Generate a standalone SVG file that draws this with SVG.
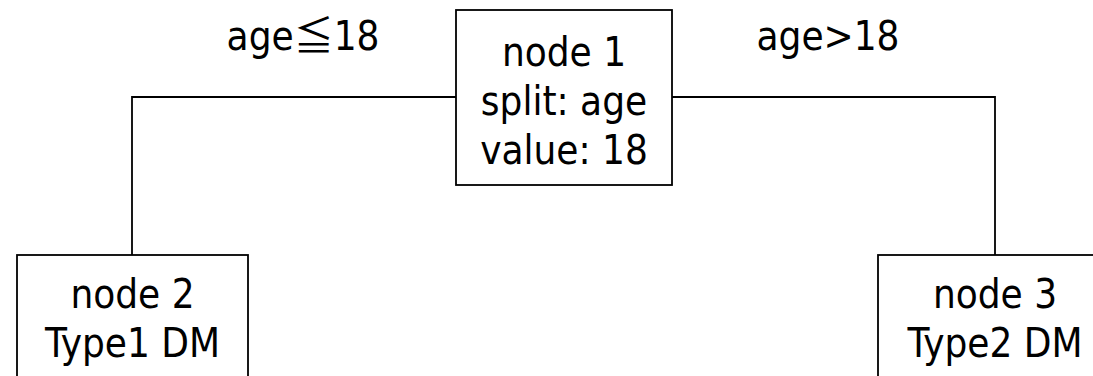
<svg xmlns="http://www.w3.org/2000/svg" width="1093" height="376" viewBox="0 0 1093 376">
<style>
.box{fill:#fff;stroke:#000;stroke-width:1.8}
.conn{fill:none;stroke:#000;stroke-width:1.8}
text{font-family:"DejaVu Sans Condensed","Liberation Sans",sans-serif;font-size:40px;fill:#000;text-anchor:middle}
.cjk{font-family:"Noto Sans CJK JP","DejaVu Sans",sans-serif}
</style>
<rect width="1093" height="376" fill="#fff"/>
<g id="connectors">
<polyline class="conn" points="456,97 132,97 132,255"/>
<polyline class="conn" points="672,97 995,97 995,255"/>
<text x="303" y="50">age<tspan class="cjk">≦</tspan>18</text>
<text x="828" y="50">age&gt;18</text>
</g>
<g id="node1">
<rect class="box" x="456" y="10" width="216" height="175"/>
<text x="564" y="66">node 1</text>
<text x="564" y="115">split: age</text>
<text x="564" y="164">value: 18</text>
</g>
<g id="node2">
<rect class="box" x="17" y="255" width="231" height="140"/>
<text x="132.5" y="308">node 2</text>
<text x="132.5" y="357">Type1 DM</text>
</g>
<g id="node3">
<rect class="box" x="878" y="255" width="234" height="140"/>
<text x="995" y="308">node 3</text>
<text x="995" y="357">Type2 DM</text>
</g>
</svg>
